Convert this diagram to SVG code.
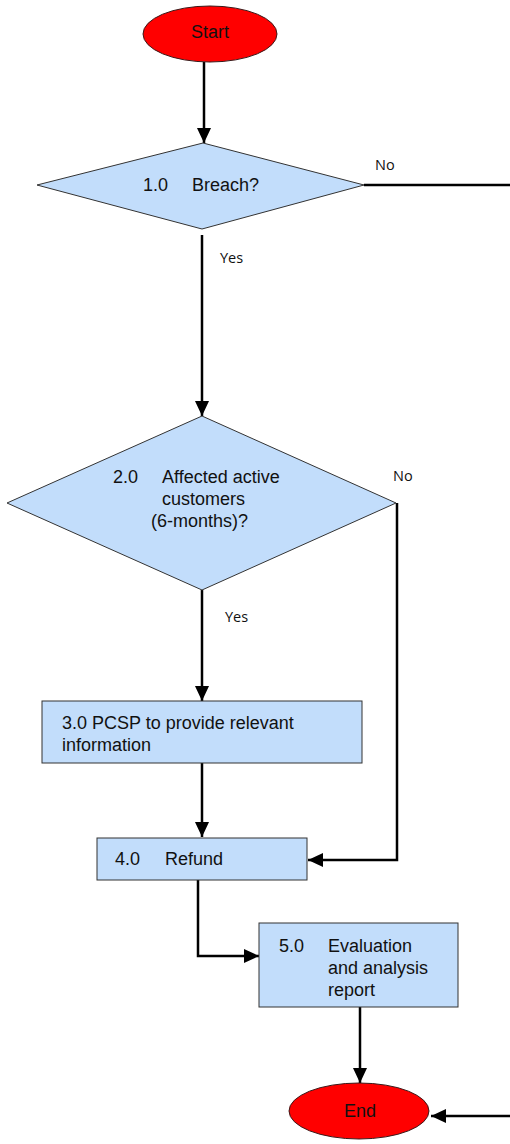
<svg xmlns="http://www.w3.org/2000/svg" width="510" height="1144" viewBox="0 0 510 1144">
  <style>
    .terminal { fill: #ff0000; stroke: #3a1a1a; stroke-width: 1; }
    .shape { fill: #c2ddfb; stroke: #333333; stroke-width: 1; }
    .txt { font-family: "Liberation Sans", Arial, sans-serif; font-size: 18px; fill: #111111; }
    .lbl { font-family: "Open Sans", "Liberation Sans", sans-serif; font-size: 14.5px; fill: #111111; }
    .conn { fill: none; stroke: #000000; stroke-width: 2.5; }
  </style>
  <defs>
    <marker id="arrow" markerUnits="userSpaceOnUse" markerWidth="15" markerHeight="14" refX="15" refY="7" orient="auto">
      <path d="M0,0 L15,7 L0,14 z" fill="#000000"/>
    </marker>
  </defs>

  <!-- connectors -->
  <g id="connectors">
    <path class="conn" d="M204,62 L204,143" marker-end="url(#arrow)"/>
    <path class="conn" d="M364,185 L510,185"/>
    <path class="conn" d="M202,235 L202,416" marker-end="url(#arrow)"/>
    <path class="conn" d="M202,590 L202,701" marker-end="url(#arrow)"/>
    <path class="conn" d="M397,503 L397,860 L308,860" marker-end="url(#arrow)"/>
    <path class="conn" d="M202,763 L202,837" marker-end="url(#arrow)"/>
    <path class="conn" d="M198,880 L198,956 L259,956" marker-end="url(#arrow)"/>
    <path class="conn" d="M360,1007 L360,1083" marker-end="url(#arrow)"/>
    <path class="conn" d="M510,1116 L431,1116" marker-end="url(#arrow)"/>
    <text class="lbl" x="375" y="170">No</text>
    <text class="lbl" x="220" y="263">Yes</text>
    <text class="lbl" x="393" y="481">No</text>
    <text class="lbl" x="225" y="622">Yes</text>
  </g>

  <!-- start -->
  <g id="start">
    <ellipse class="terminal" cx="210" cy="34" rx="67" ry="28"/>
    <text class="txt" x="210" y="38" text-anchor="middle">Start</text>
  </g>

  <!-- 1.0 decision -->
  <g id="breach">
    <polygon class="shape" points="203,143 364,185 202,229 37,185"/>
    <text class="txt" x="143" y="191">1.0</text>
    <text class="txt" x="192" y="191">Breach?</text>
  </g>

  <!-- 2.0 decision -->
  <g id="affected">
    <polygon class="shape" points="202,416 396,503 202,590 7,503"/>
    <text class="txt" x="113" y="483">2.0</text>
    <text class="txt" x="162" y="483">Affected active</text>
    <text class="txt" x="162" y="505">customers</text>
    <text class="txt" x="151" y="527">(6-months)?</text>
  </g>

  <!-- 3.0 process -->
  <g id="pcsp">
    <rect class="shape" x="42" y="701" width="320" height="62"/>
    <text class="txt" x="62" y="729">3.0 PCSP to provide relevant</text>
    <text class="txt" x="62" y="751">information</text>
  </g>

  <!-- 4.0 process -->
  <g id="refund">
    <rect class="shape" x="97" y="838" width="210" height="42"/>
    <text class="txt" x="115" y="865">4.0</text>
    <text class="txt" x="165" y="865">Refund</text>
  </g>

  <!-- 5.0 process -->
  <g id="report">
    <rect class="shape" x="259" y="923" width="199" height="84"/>
    <text class="txt" x="279" y="952">5.0</text>
    <text class="txt" x="328" y="952">Evaluation</text>
    <text class="txt" x="328" y="974">and analysis</text>
    <text class="txt" x="328" y="996">report</text>
  </g>

  <!-- end -->
  <g id="end">
    <ellipse class="terminal" cx="359" cy="1111" rx="70" ry="28"/>
    <text class="txt" x="360" y="1117" text-anchor="middle">End</text>
  </g>
</svg>
